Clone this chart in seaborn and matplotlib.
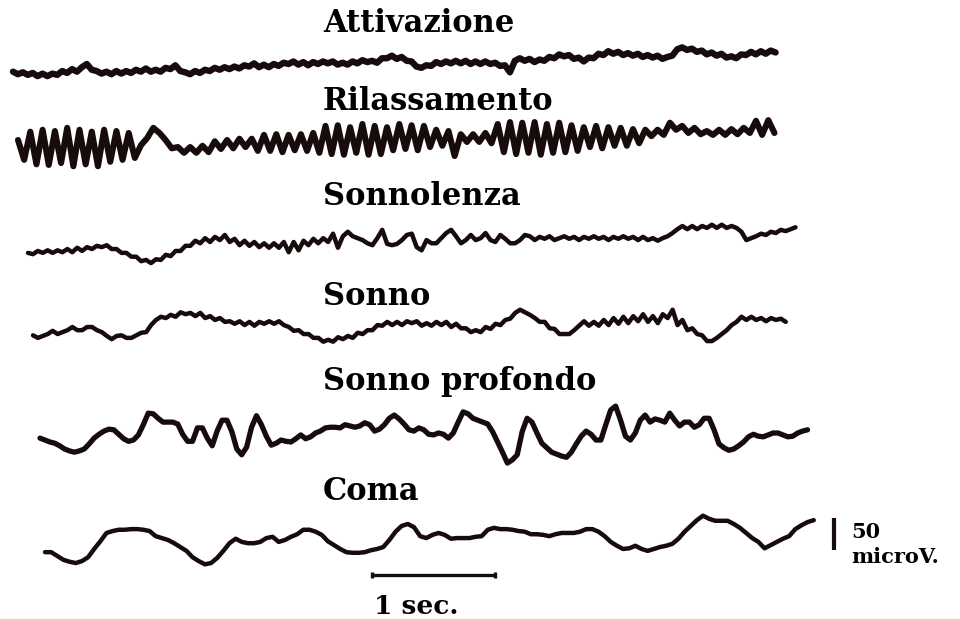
import numpy as np
import pandas as pd
import matplotlib
matplotlib.use("Agg")
import matplotlib.pyplot as plt
import seaborn as sns

# ---------------- data ----------------
# each trace is a uniformly sampled EEG signal, amplitudes in microvolts
titles = ["Attivazione", "Rilassamento", "Sonnolenza", "Sonno", "Sonno profondo", "Coma"]
sample_dt = [0.04, 0.05, 0.04, 0.04, 0.04, 0.05]   # seconds between samples

attivazione_uv = [
    -12, -16, -13, -17, -14, -19, -15, -19, -15, -17, -11, -14, -8, -12, -5, 0, -9, -11, -15, -12,
    -16, -11, -15, -11, -14, -9, -12, -7, -12, -9, -12, -6, -8, -2, -11, -13, -16, -11, -14, -9,
    -11, -6, -9, -5, -8, -4, -7, -2, -4, 1, -5, -1, -5, 0, -3, 2, 0, 4, -1, 3,
    -2, 3, 0, 4, 1, 4, -1, 2, -1, 4, 1, 6, 3, 5, 2, 9, 9, 13, 8, 11,
    5, 4, -4, -6, -2, -3, 3, 0, 4, 1, 5, 1, 5, 0, 4, 0, 4, 0, 2, -3,
    -2, -13, 5, 9, 5, 8, 3, 7, 5, 11, 9, 15, 12, 14, 8, 10, 4, 10, 9, 16,
    14, 20, 16, 19, 14, 17, 13, 16, 11, 14, 10, 13, 8, 11, 13, 23, 26, 22, 24, 19,
    21, 15, 18, 13, 16, 10, 12, 9, 15, 14, 19, 15, 20, 16, 21, 18]

rilassamento_uv = [
    0, -31, 13, -38, 16, -39, 14, -36, 19, -41, 16, -38, 13, -41, 16, -34, 14, -31, 11, -28,
    -8, 3, 19, 11, 0, -13, -11, -20, -11, -20, -9, -19, -2, -14, 0, -13, 2, -11, 2, -17,
    8, -17, 9, -19, 8, -16, 9, -17, 11, -20, 22, -22, 23, -23, 20, -20, 25, -23, 22, -22,
    20, -16, 25, -14, 23, -16, 22, -11, 16, -9, 14, -25, 9, -3, 9, -3, 11, -5, 25, -19,
    28, -22, 27, -20, 28, -23, 25, -20, 27, -19, 23, -17, 20, -11, 22, -13, 20, -9, 19, -9,
    17, -5, 16, 6, 16, 8, 27, 16, 22, 11, 19, 9, 14, 8, 16, 8, 17, 9, 19, 11,
    30, 8, 31, 11]

sonnolenza_uv = [
    -17, -19, -14, -17, -13, -17, -13, -16, -11, -16, -9, -14, -8, -11, -6, -8, -5, -11, -11, -17,
    -17, -23, -23, -30, -28, -33, -27, -28, -20, -22, -14, -14, -6, -6, 2, -2, 6, 0, 8, 3,
    11, 0, 5, -5, 2, -6, 0, -8, -2, -9, -2, -9, 0, -16, 0, -13, 2, -5, 5, -2,
    6, 0, 13, -9, 9, 16, 9, 6, 3, -2, -5, 6, 19, -3, -5, -3, 3, 11, 13, -8,
    -13, 3, -2, -2, 6, 14, 19, 9, -2, 3, 11, 3, 6, 14, 3, 0, 11, 5, -2, -2,
    3, 11, 9, 3, 8, 5, 9, 3, 6, 9, 5, 8, 3, 8, 5, 9, 5, 8, 3, 8,
    5, 9, 5, 8, 3, 8, 3, 6, 2, 6, 9, 14, 20, 25, 20, 25, 20, 25, 22, 27,
    22, 27, 22, 25, 22, 16, 3, 6, 9, 13, 11, 16, 14, 19, 17, 20, 23]

sonno_uv = [
    -13, -17, -14, -11, -6, -11, -8, -5, 0, -5, -5, 0, 0, -5, -8, -14, -19, -14, -13, -17,
    -17, -13, -9, -8, 3, 11, 16, 14, 19, 16, 23, 20, 22, 17, 22, 14, 17, 11, 14, 8,
    9, 5, 9, 3, 8, 2, 8, 5, 9, 5, 9, 3, 0, -6, -5, -11, -11, -17, -17, -23,
    -20, -23, -16, -19, -14, -17, -9, -11, -5, -5, 3, 2, 8, 3, 8, 3, 9, 6, 9, 2,
    6, 2, 8, 3, 8, 0, 5, -2, -2, -8, -5, -8, 0, -3, 5, 3, 11, 13, 22, 27,
    23, 19, 14, 8, 8, -2, -3, -11, -11, -11, -5, 2, 9, 2, 8, 2, 11, 3, 14, 5,
    16, 6, 17, 9, 20, 8, 17, 6, 20, 14, 27, 3, 11, -5, -2, -11, -13, -22, -22, -17,
    -11, -5, 3, 8, 16, 11, 16, 11, 14, 9, 14, 11, 13, 8]

sonno_profondo_uv = [
    -8, -11, -14, -16, -20, -25, -28, -30, -28, -25, -17, -8, -2, 3, 6, 5, -2, -9, -13, -11,
    -3, 13, 31, 30, 23, 17, 17, 17, 14, -2, -13, -13, 8, 8, -8, -20, 3, 20, 20, 2,
    -25, -34, -22, 9, 27, 13, -5, -19, -16, -11, -13, -14, -9, -3, -9, -6, 0, 3, 8, 9,
    9, 8, 13, 11, 9, 11, 16, 13, 3, 6, 13, 23, 28, 22, 14, 5, 3, 8, 5, -2,
    -3, 0, -2, -8, 0, 17, 33, 30, 23, 20, 17, 14, 2, -14, -30, -47, -42, -34, 2, 23,
    17, 0, -16, -23, -30, -33, -36, -38, -30, -17, -5, 3, -2, -11, -11, 13, 36, 42, 20, -5,
    -11, 0, 20, 28, 17, 22, 20, 17, 31, 20, 11, 17, 17, 9, 13, 23, 23, 5, -17, -23,
    -27, -25, -20, -14, -6, -2, -5, -6, -3, 0, 0, -3, -6, -5, 0, 3, 5]

coma_uv = [
    -19, -19, -25, -31, -34, -36, -33, -27, -14, -2, 11, 14, 16, 16, 17, 17, 16, 14, 6, 3,
    0, -5, -11, -17, -27, -33, -38, -36, -28, -17, -5, 2, -3, -5, -5, -3, 3, 5, -3, 0,
    5, 9, 16, 16, 13, 8, -2, -8, -14, -19, -20, -20, -19, -16, -14, -11, 0, 13, 22, 25,
    20, 6, 3, 8, 11, 8, 2, 3, 3, 3, 5, 6, 16, 19, 17, 17, 16, 14, 13, 9,
    9, 8, 6, 9, 11, 11, 11, 13, 17, 17, 13, 6, -3, -9, -14, -13, -9, -14, -17, -14,
    -11, -9, -6, 2, 13, 22, 31, 38, 33, 30, 30, 30, 25, 19, 11, 3, -3, -13, -8, -3,
    2, 6, 17, 23, 28, 31]

signals = [attivazione_uv, rilassamento_uv, sonnolenza_uv, sonno_uv, sonno_profondo_uv, coma_uv]

scale_time_s = 1.0      # horizontal calibration bar
scale_amp_uv = 50.0     # vertical calibration bar

# ---------------- layout (pixels of the 960x619 canvas) ----------------
W, H = 960, 619
PX_PER_SEC = 123.0
PX_PER_UV = 32.0 / 50.0
trace_x0 = [13, 18, 28, 33, 40, 45]
trace_base = [64, 140, 242, 327, 433, 540]
trace_lw = [4.6, 4.4, 3.2, 3.2, 3.8, 3.2]
title_baseline = [32, 110, 205, 305, 390, 500]
title_left = 323

INK = "#170b0b"


def sx(px):
    return px / PX_PER_SEC


def sy(py):
    return (H - py) / PX_PER_UV


sns.set_theme(style="white")
plt.rcParams["font.family"] = ["DejaVu Serif", "DejaVu Sans"]

fig = plt.figure(figsize=(W / 100, H / 100), dpi=100)
ax = fig.add_axes([0, 0, 1, 1])
ax.set_xlim(0, sx(W))
ax.set_ylim(0, sy(0))
ax.set_axis_off()

for name, sig, dt, x0, base, lw, ty in zip(titles, signals, sample_dt, trace_x0,
                                           trace_base, trace_lw, title_baseline):
    v = np.asarray(sig, dtype=float)
    t = np.arange(len(v)) * dt
    df = pd.DataFrame({"t": sx(x0) + t, "v": sy(base) + v})
    sns.lineplot(data=df, x="t", y="v", ax=ax, color=INK, linewidth=lw,
                 estimator=None, sort=False, legend=False,
                 solid_joinstyle="round", solid_capstyle="round")
    ax.text(sx(title_left), sy(ty), name, ha="left", va="baseline",
            fontsize=22, fontweight="bold", color="black")

# time calibration bar
bx0, by = sx(372), sy(575)
ax.plot([bx0, bx0 + scale_time_s], [by, by], color=INK, lw=2.4, solid_capstyle="butt")
for xe in (bx0, bx0 + scale_time_s):
    ax.plot([xe, xe], [by - 4, by + 4], color=INK, lw=2.4, solid_capstyle="butt")
ax.text(sx(374), sy(614), "1 sec.", ha="left", va="baseline",
        fontsize=19, fontweight="bold", color="black")

# amplitude calibration bar
vx, vy0 = sx(834), sy(550)
ax.plot([vx, vx], [vy0, vy0 + scale_amp_uv], color=INK, lw=3.0, solid_capstyle="butt")
ax.text(sx(851), sy(538), "50", ha="left", va="baseline",
        fontsize=15, fontweight="bold", color="black")
ax.text(sx(851), sy(563), "microV.", ha="left", va="baseline",
        fontsize=15, fontweight="bold", color="black")

fig.savefig("out.png", dpi=100, facecolor="white")
